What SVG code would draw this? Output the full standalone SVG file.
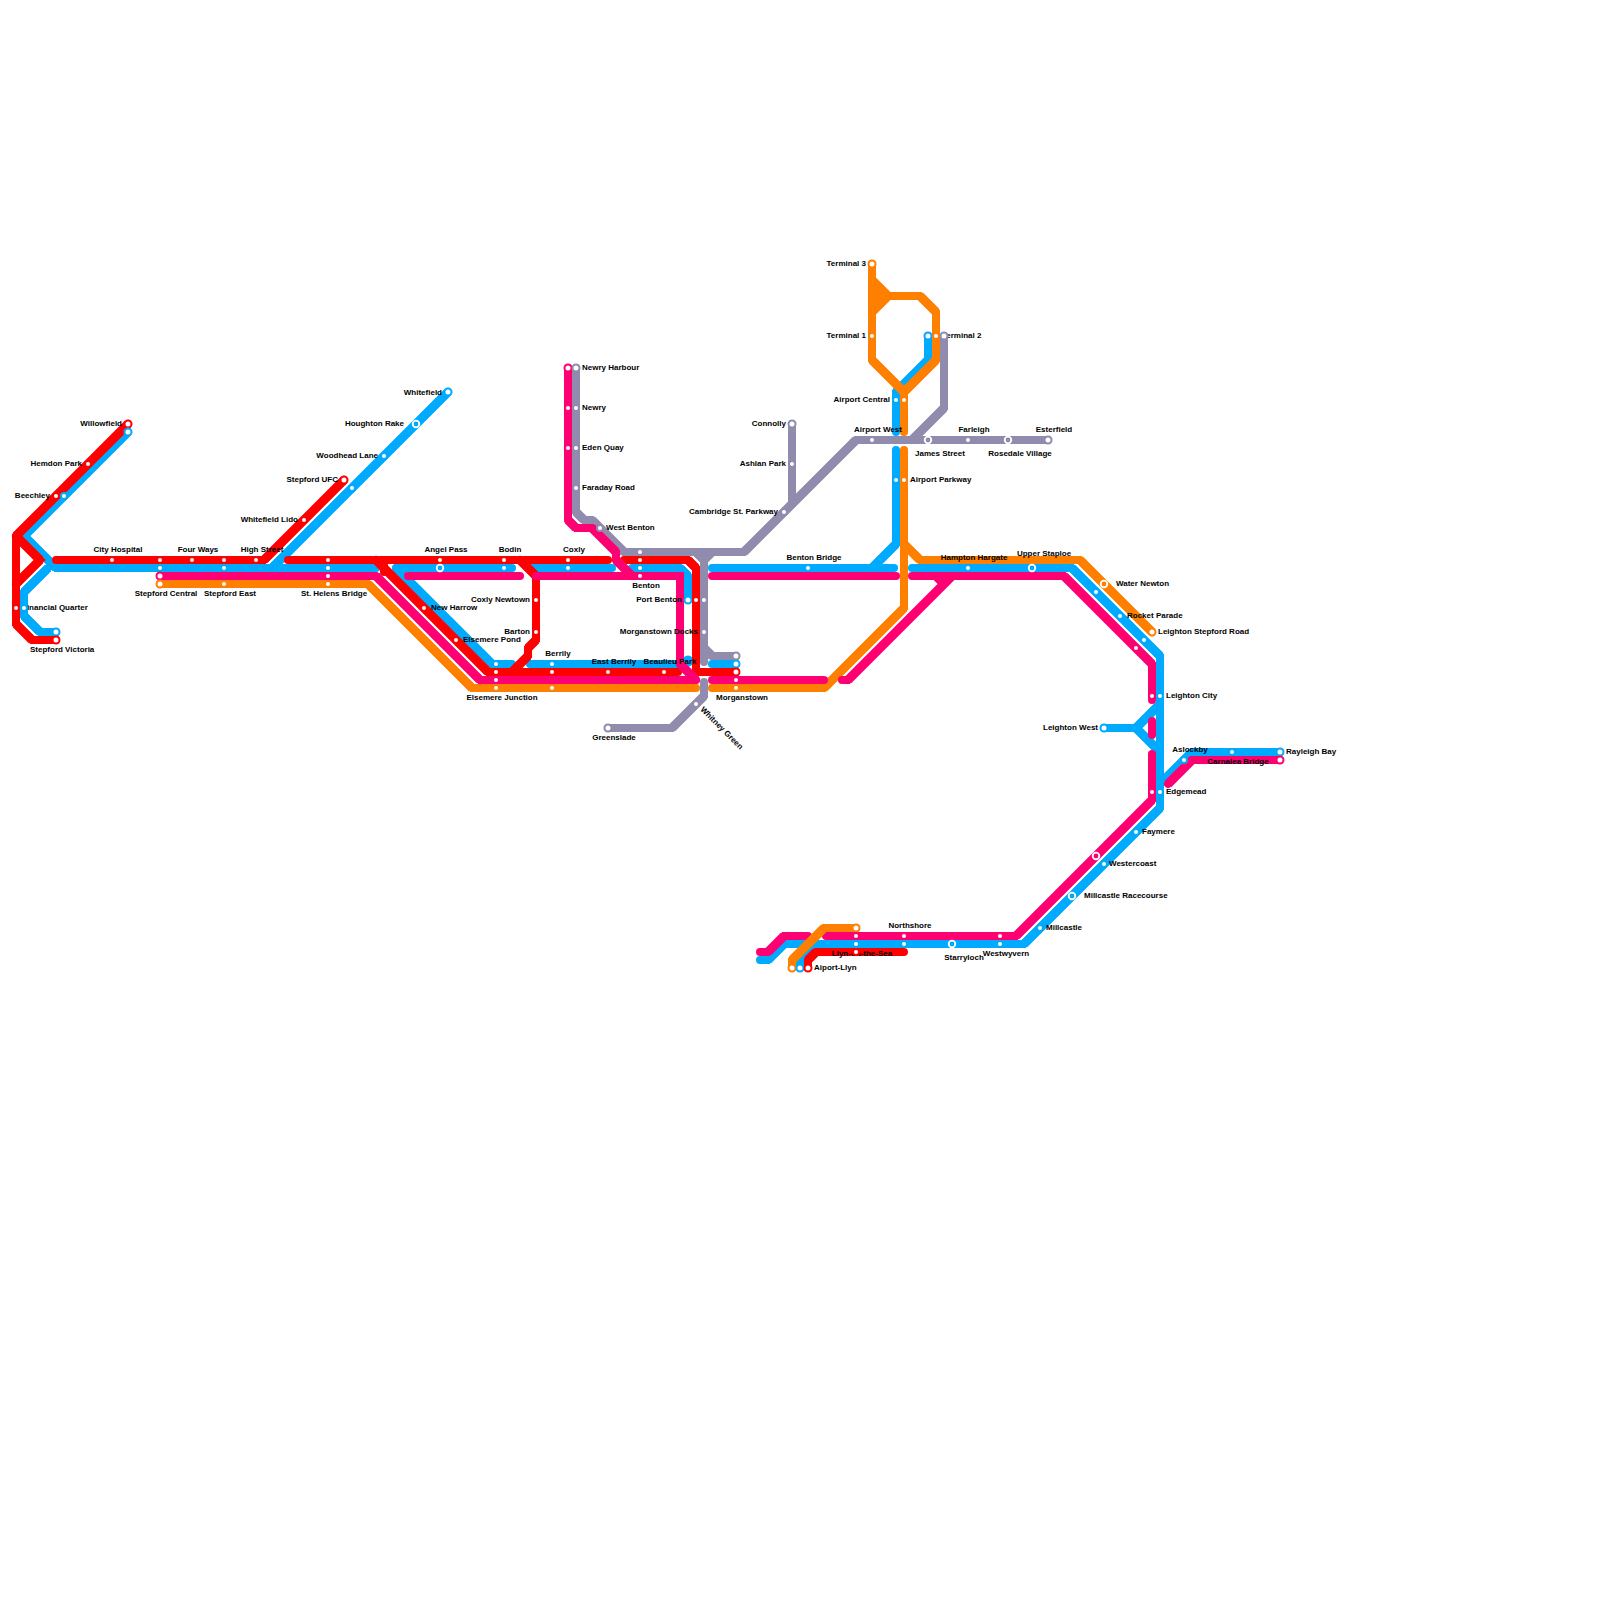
<svg xmlns="http://www.w3.org/2000/svg" width="1600" height="1600" viewBox="0 0 1600 1600">
<style>
.ln{fill:none;stroke-width:8;stroke-linecap:round;stroke-linejoin:miter;stroke-miterlimit:4}
.dg{stroke-width:9;stroke-linecap:butt}
.R{stroke:#ff0000}.B{stroke:#00aaff}.M{stroke:#ff0073}.O{stroke:#ff7f00}.G{stroke:#918bad}
text{font-family:"Liberation Sans",Arial,sans-serif;font-size:8px;font-weight:700;fill:#000}
.e{text-anchor:end}.c{text-anchor:middle}
circle{fill:#fff;stroke-width:2;r:3}
circle.t{r:3.5}
circle.i{stroke:#fff;stroke-width:1.8;r:3.3}
circle.i.B{fill:#00aaff}circle.i.O{fill:#ff7f00}circle.i.M{fill:#ff0073}circle.i.G{fill:#918bad}
</style>
<rect width="1600" height="1600" fill="#fff"/>
<g id="connectors">
<g id="line-blue" class="ln B">
<path d="M128 432L24 536L56 568L376 568"/>
<path d="M48 568L24 592L24 616L40 632L56 632"/>
<path d="M272 568L448 392"/>
<path d="M396 568L512 568"/>
<path d="M396 568L492 664L512 664"/>
<path d="M530 568L612 568"/>
<path d="M632 568L680 568L688 576L688 600"/>
<path d="M530 664L680 664"/>
<path d="M712 664L736 664"/>
<path d="M712 568L894 568"/>
<path d="M872 568L896 544L896 450"/>
<path d="M896 432L896 392L928 360L928 336"/>
<path d="M912 568L1072 568L1160 656L1160 808L1024 944L784 944L768 960L760 960"/>
<path d="M800 968L800 960L816 944"/>
<path d="M1104 728L1136 728L1160 704M1136 728L1160 752"/>
<path d="M1162 782L1184 760L1192 752L1280 752"/>
<path class="dg" d="M128 432L24 536M24 536L56 568M48 568L24 592M24 616L40 632M272 568L448 392M396 568L492 664M680 568L688 576M872 568L896 544M896 392L928 360M1072 568L1160 656M1160 808L1024 944M784 944L768 960M800 960L816 944M1136 728L1160 704M1136 728L1160 752M1162 782L1192 752"/>
<circle cx="688" cy="661" style="fill:#00aaff;stroke:none;r:5.5"/>
</g>
<g id="line-grey" class="ln G">
<path d="M576 368L576 512L584 520L592 520L624 552L744 552L856 440L1048 440"/>
<path d="M704 552L704 662"/>
<path d="M704 648L712 656L736 656"/>
<path d="M704 682L704 696L672 728L608 728"/>
<path d="M792 424L792 504"/>
<path d="M944 336L944 408L912 440"/>
<path class="dg" d="M576 512L584 520M592 520L624 552M744 552L856 440M704 648L712 656M704 696L672 728M944 408L912 440M696 552L704 560M712 552L704 560"/>
</g>
<g id="line-orange" class="ln O">
<path d="M160 584L368 584L472 688L696 688"/>
<path d="M712 688L824 688L904 608L904 450"/>
<path d="M904 544L920 560L1080 560L1152 632"/>
<path d="M872 264L872 360L904 392L904 432"/>
<path d="M904 392L936 360L936 312L920 296L888 296L872 312"/>
<path d="M872 280L888 296"/>
<path class="dg" d="M368 584L472 688M824 688L904 608M904 544L920 560M1080 560L1152 632M872 360L904 392M904 392L936 360M936 312L920 296M888 296L872 312M872 280L888 296"/>
<polygon points="872,280 888,296 872,312" style="fill:#ff7f00;stroke:none"/>
</g>
<g id="line-red" class="ln R">
<path d="M128 424L16 536L16 624L32 640L56 640"/>
<path d="M16 536L40 560L16 584"/>
<path d="M56 560L264 560L344 480"/>
<path d="M288 560L608 560"/>
<path d="M624 560L688 560L696 568L696 672L736 672"/>
<path d="M376 560L488 672L678 672"/>
<path d="M384 560L384 572"/>
<path d="M520 560L536 576L536 640L528 648L528 656L512 672"/>
<path d="M808 968L808 960L816 952L904 952"/>
<path class="dg" d="M128 424L16 536M16 536L40 560M40 560L16 584M16 624L32 640M264 560L344 480M688 560L696 568M376 560L488 672M520 560L536 576M536 640L528 648M528 656L512 672M808 960L816 952"/>
</g>
<g id="line-magenta" class="ln M">
<path d="M160 576L376 576L480 680L696 680"/>
<path d="M408 576L520 576"/>
<path d="M536 576L680 576L680 664L696 680"/>
<path d="M568 368L568 520L576 528L592 528L616 552L616 560L632 576"/>
<path d="M712 680L824 680"/>
<path d="M842 680L848 680L952 576"/>
<path d="M712 576L896 576"/>
<path d="M912 576L1064 576L1152 664L1152 700"/>
<path d="M1152 721L1152 735"/>
<path d="M1152 754L1152 800L1016 936L826 936"/>
<path d="M760 952L768 952L784 936L808 936"/>
<path d="M1168 784L1192 760L1280 760"/>
<path class="dg" d="M376 576L480 680M680 664L696 680M568 520L576 528M592 528L616 552M616 560L632 576M848 680L952 576M936 576L944 584M1064 576L1152 664M1152 800L1016 936M768 952L784 936M1168 784L1192 760"/>
</g>
<g id="line-orange-2" class="ln O">
<path d="M792 968L792 960L824 928L856 928"/>
<path class="dg" d="M792 960L824 928"/>
</g>
</g>
<g id="stations">
<g id="willowfield"><text class="e" x="122" y="426">Willowfield</text><circle class="t R" cx="128" cy="424"/><circle class="t B" cx="128" cy="432"/></g>
<g id="hemdon-park"><text class="e" x="82" y="466">Hemdon Park</text><circle class="R" cx="88" cy="464"/></g>
<g id="beechley"><text class="e" x="50" y="498">Beechley</text><circle class="R" cx="56" cy="496"/><circle class="B" cx="64" cy="496"/></g>
<g id="financial-quarter"><text x="22" y="610">Financial Quarter</text><circle class="R" cx="16" cy="608"/><circle class="B" cx="24" cy="608"/></g>
<g id="stepford-victoria"><text x="30" y="652">Stepford Victoria</text><circle class="t B" cx="56" cy="632"/><circle class="t R" cx="56" cy="640"/></g>
<g id="city-hospital"><text class="c" x="118" y="552">City Hospital</text><circle class="R" cx="112" cy="560"/></g>
<g id="stepford-central"><text class="c" x="166" y="596">Stepford Central</text><circle class="R" cx="160" cy="560"/><circle class="B" cx="160" cy="568"/><circle class="t M" cx="160" cy="576"/><circle class="t O" cx="160" cy="584"/></g>
<g id="four-ways"><text class="c" x="198" y="552">Four Ways</text><circle class="R" cx="192" cy="560"/></g>
<g id="stepford-east"><text class="c" x="230" y="596">Stepford East</text><circle class="R" cx="224" cy="560"/><circle class="B" cx="224" cy="568"/><circle class="O" cx="224" cy="584"/></g>
<g id="high-street"><text class="c" x="262" y="552">High Street</text><circle class="R" cx="256" cy="560"/></g>
<g id="whitefield-lido"><text class="e" x="298" y="522">Whitefield Lido</text><circle class="R" cx="304" cy="520"/></g>
<g id="stepford-ufc"><text class="e" x="338" y="482">Stepford UFC</text><circle class="t R" cx="344" cy="480"/><circle class="B" cx="352" cy="488"/></g>
<g id="woodhead-lane"><text class="e" x="378" y="458">Woodhead Lane</text><circle class="B" cx="384" cy="456"/></g>
<g id="houghton-rake"><text class="e" x="404" y="426">Houghton Rake</text><circle class="i B" cx="416" cy="424"/></g>
<g id="whitefield"><text class="e" x="442" y="395">Whitefield</text><circle class="t B" cx="448" cy="392"/></g>
<g id="st-helens-bridge"><text class="c" x="334" y="596">St. Helens Bridge</text><circle class="R" cx="328" cy="560"/><circle class="B" cx="328" cy="568"/><circle class="M" cx="328" cy="576"/><circle class="O" cx="328" cy="584"/></g>
<g id="angel-pass"><text class="c" x="446" y="552">Angel Pass</text><circle class="R" cx="440" cy="560"/><circle class="i B" cx="440" cy="568"/></g>
<g id="bodin"><text class="c" x="510" y="552">Bodin</text><circle class="R" cx="504" cy="560"/><circle class="B" cx="504" cy="568"/></g>
<g id="coxly"><text class="c" x="574" y="552">Coxly</text><circle class="R" cx="568" cy="560"/><circle class="B" cx="568" cy="568"/></g>
<g id="new-harrow"><text x="431" y="610">New Harrow</text><circle class="R" cx="424" cy="608"/></g>
<g id="elsemere-pond"><text x="463" y="642">Elsemere Pond</text><circle class="R" cx="456" cy="640"/></g>
<g id="coxly-newtown"><text class="e" x="530" y="602">Coxly Newtown</text><circle class="R" cx="536" cy="600"/></g>
<g id="barton"><text class="e" x="530" y="634">Barton</text><circle class="R" cx="536" cy="632"/></g>
<g id="elsemere-junction"><text class="c" x="502" y="700">Elsemere Junction</text><circle class="B" cx="496" cy="664"/><circle class="R" cx="496" cy="672"/><circle class="M" cx="496" cy="680"/><circle class="O" cx="496" cy="688"/></g>
<g id="berrily"><text class="c" x="558" y="656">Berrily</text><circle class="B" cx="552" cy="664"/><circle class="R" cx="552" cy="672"/><circle class="O" cx="552" cy="688"/></g>
<g id="east-berrily"><text class="c" x="614" y="664">East Berrily</text><circle class="R" cx="608" cy="672"/></g>
<g id="beaulieu-park"><text class="c" x="670" y="664">Beaulieu Park</text><circle class="R" cx="664" cy="672"/></g>
<g id="newry-harbour"><text x="582" y="370">Newry Harbour</text><circle class="t M" cx="568" cy="368"/><circle class="t G" cx="576" cy="368"/></g>
<g id="newry"><text x="582" y="410">Newry</text><circle class="M" cx="568" cy="408"/><circle class="G" cx="576" cy="408"/></g>
<g id="eden-quay"><text x="582" y="450">Eden Quay</text><circle class="M" cx="568" cy="448"/><circle class="G" cx="576" cy="448"/></g>
<g id="faraday-road"><text x="582" y="490">Faraday Road</text><circle class="G" cx="576" cy="488"/></g>
<g id="west-benton"><text x="606" y="530">West Benton</text><circle class="G" cx="600" cy="528"/></g>
<g id="benton"><text class="c" x="646" y="588">Benton</text><circle class="G" cx="640" cy="552"/><circle class="R" cx="640" cy="560"/><circle class="B" cx="640" cy="568"/><circle class="M" cx="640" cy="576"/></g>
<g id="port-benton"><text class="e" x="682" y="602">Port Benton</text><circle class="t B" cx="688" cy="600"/><circle class="R" cx="696" cy="600"/><circle class="G" cx="704" cy="600"/></g>
<g id="morganstown-docks"><text class="e" x="698" y="634">Morganstown Docks</text><circle class="G" cx="704" cy="632"/></g>
<g id="morganstown"><text class="c" x="742" y="700">Morganstown</text><circle class="t G" cx="736" cy="656"/><circle class="t B" cx="736" cy="664"/><circle class="t R" cx="736" cy="672"/><circle class="M" cx="736" cy="680"/><circle class="O" cx="736" cy="688"/></g>
<g id="whitney-green"><text transform="translate(700 710) rotate(45)">Whitney Green</text><circle class="G" cx="696" cy="704"/></g>
<g id="greenslade"><text class="c" x="614" y="740">Greenslade</text><circle class="t G" cx="608" cy="728"/></g>
<g id="connolly"><text class="e" x="786" y="426">Connolly</text><circle class="t G" cx="792" cy="424"/></g>
<g id="ashlan-park"><text class="e" x="786" y="466">Ashlan Park</text><circle class="G" cx="792" cy="464"/></g>
<g id="cambridge-st-parkway"><text class="e" x="778" y="514">Cambridge St. Parkway</text><circle class="G" cx="784" cy="512"/></g>
<g id="benton-bridge"><text class="c" x="814" y="560">Benton Bridge</text><circle class="B" cx="808" cy="568"/></g>
<g id="airport-west"><text class="c" x="878" y="432">Airport West</text><circle class="G" cx="872" cy="440"/></g>
<g id="terminal-3"><text class="e" x="866" y="266">Terminal 3</text><circle class="t O" cx="872" cy="264"/></g>
<g id="terminal-1"><text class="e" x="866" y="338">Terminal 1</text><circle class="O" cx="872" cy="336"/></g>
<g id="terminal-2"><text x="942" y="338">Terminal 2</text><circle class="t B" cx="928" cy="336"/><circle class="O" cx="936" cy="336"/><circle class="t G" cx="944" cy="336"/></g>
<g id="airport-central"><text class="e" x="890" y="402">Airport Central</text><circle class="B" cx="896" cy="400"/><circle class="O" cx="904" cy="400"/></g>
<g id="airport-parkway"><text x="910" y="482">Airport Parkway</text><circle class="B" cx="896" cy="480"/><circle class="O" cx="904" cy="480"/></g>
<g id="james-street"><text class="c" x="940" y="456">James Street</text><circle class="i G" cx="928" cy="440"/></g>
<g id="farleigh"><text class="c" x="974" y="432">Farleigh</text><circle class="G" cx="968" cy="440"/></g>
<g id="rosedale-village"><text class="c" x="1020" y="456">Rosedale Village</text><circle class="i G" cx="1008" cy="440"/></g>
<g id="esterfield"><text class="c" x="1054" y="432">Esterfield</text><circle class="t G" cx="1048" cy="440"/></g>
<g id="hampton-hargate"><text class="c" x="974" y="560">Hampton Hargate</text><circle class="B" cx="968" cy="568"/></g>
<g id="upper-staploe"><text class="c" x="1044" y="556">Upper Staploe</text><circle class="i B" cx="1032" cy="568"/></g>
<g id="water-newton"><text x="1116" y="586">Water Newton</text><circle class="i O" cx="1104" cy="584"/><circle class="B" cx="1096" cy="592"/></g>
<g id="rocket-parade"><text x="1127" y="618">Rocket Parade</text><circle class="B" cx="1120" cy="616"/></g>
<g id="leighton-stepford-road"><text x="1158" y="634">Leighton Stepford Road</text><circle class="t O" cx="1152" cy="632"/><circle class="B" cx="1144" cy="640"/><circle class="M" cx="1136" cy="648"/></g>
<g id="leighton-city"><text x="1166" y="698">Leighton City</text><circle class="M" cx="1152" cy="696"/><circle class="B" cx="1160" cy="696"/></g>
<g id="leighton-west"><text class="e" x="1098" y="730">Leighton West</text><circle class="t B" cx="1104" cy="728"/></g>
<g id="aslockby"><text class="c" x="1190" y="752">Aslockby</text><circle class="B" cx="1184" cy="760"/><circle class="B" cx="1232" cy="752"/></g>
<g id="rayleigh-bay"><text x="1286" y="754">Rayleigh Bay</text><circle class="t B" cx="1280" cy="752"/></g>
<g id="carnalea-bridge"><text class="c" x="1238" y="764">Carnalea Bridge</text><circle class="t M" cx="1280" cy="760"/></g>
<g id="edgemead"><text x="1166" y="794">Edgemead</text><circle class="M" cx="1152" cy="792"/><circle class="B" cx="1160" cy="792"/></g>
<g id="faymere"><text x="1142" y="834">Faymere</text><circle class="B" cx="1136" cy="832"/></g>
<g id="westercoast"><text x="1109" y="866">Westercoast</text><circle class="i M" cx="1096" cy="856"/><circle class="B" cx="1104" cy="864"/></g>
<g id="millcastle-racecourse"><text x="1084" y="898">Millcastle Racecourse</text><circle class="i B" cx="1072" cy="896"/></g>
<g id="millcastle"><text x="1046" y="930">Millcastle</text><circle class="B" cx="1040" cy="928"/></g>
<g id="westwyvern"><text class="c" x="1006" y="956">Westwyvern</text><circle class="M" cx="1000" cy="936"/><circle class="B" cx="1000" cy="944"/></g>
<g id="starryloch"><text class="c" x="964" y="960">Starryloch</text><circle class="i B" cx="952" cy="944"/></g>
<g id="northshore"><text class="c" x="910" y="928">Northshore</text><circle class="M" cx="904" cy="936"/><circle class="B" cx="904" cy="944"/></g>
<g id="llyn-on-the-sea"><text class="c" x="862" y="956">Llyn-on-the-Sea</text><circle class="t O" cx="856" cy="928"/><circle class="M" cx="856" cy="936"/><circle class="B" cx="856" cy="944"/><circle class="R" cx="856" cy="952"/></g>
<g id="aiport-llyn"><text x="814" y="970">Aiport-Llyn</text><circle class="t O" cx="792" cy="968"/><circle class="t B" cx="800" cy="968"/><circle class="t R" cx="808" cy="968"/></g>
</g>
</svg>
